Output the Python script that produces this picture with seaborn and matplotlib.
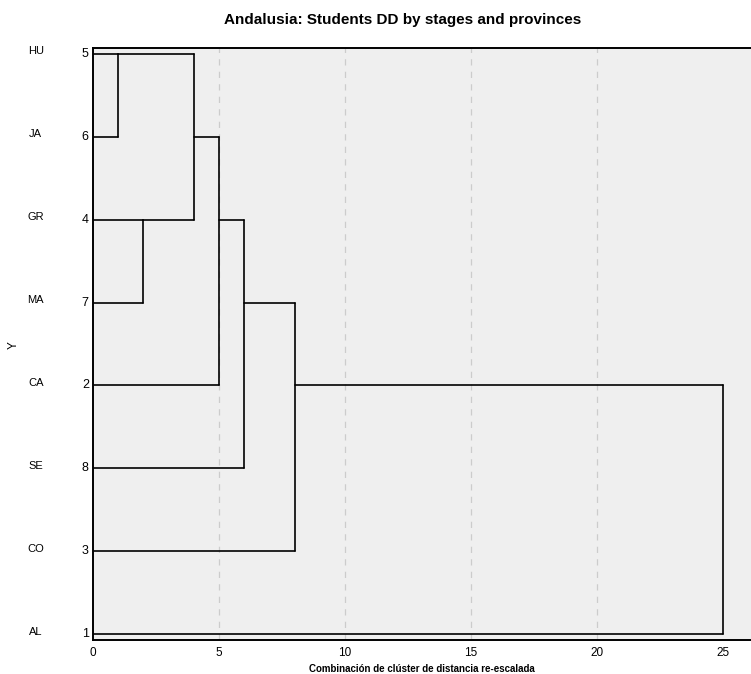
import numpy as np
import pandas as pd
import seaborn as sns
import matplotlib.pyplot as plt
import matplotlib.transforms as mtransforms

# leaves, listed from bottom row (0) to top row (7)
provinces = ["AL", "CO", "SE", "CA", "MA", "GR", "JA", "HU"]
case_ids = ["1", "3", "8", "2", "7", "4", "6", "5"]

# merges: upper node, lower node, rescaled distance, row of the new node
merge_upper = ["HU", "GR", "c1", "c3", "c4", "c5", "c6"]
merge_lower = ["JA", "MA", "c2", "CA", "SE", "CO", "AL"]
merge_dist = [1, 2, 4, 5, 6, 8, 25]
merge_row = [7, 5, 6, 5, 4, 3, 0]

x_ticks = [0, 5, 10, 15, 20, 25]

# build segments from the merge table
node_row = {p: i for i, p in enumerate(provinces)}
node_x = {p: 0 for p in provinces}
rows = []
seg = 0
for k, (a, b, d) in enumerate(zip(merge_upper, merge_lower, merge_dist)):
    for n in (a, b):
        rows += [(seg, node_x[n], node_row[n]), (seg, d, node_row[n])]
        seg += 1
    rows += [(seg, d, node_row[a]), (seg, d, node_row[b])]
    seg += 1
    name = f"c{k + 1}"
    node_row[name] = merge_row[k]
    node_x[name] = d
segs = pd.DataFrame(rows, columns=["seg", "x", "y"])

sns.set_theme(style="white")
plt.rcParams['font.family'] = ['Liberation Sans', 'DejaVu Sans']
plt.rcParams.update({"text.color": "black", "axes.labelcolor": "black",
                     "xtick.color": "black", "ytick.color": "black"})

fig = plt.figure(figsize=(7.51, 6.74), dpi=100)
ax = fig.add_axes([93 / 751, 34 / 674, 658 / 751, 592.5 / 674])
ax.set_facecolor("#efefef")

for t in x_ticks[1:-1]:
    ax.axvline(t, color="#cccccc", lw=0.9, ls=(0, (5, 5)), zorder=0)

sns.lineplot(data=segs, x="x", y="y", units="seg", estimator=None, sort=False,
             color="black", lw=1.2, ax=ax)

ax.set_xlim(0, 26.1)
ax.set_ylim(-0.072, 7.078)
ax.set_xticks(x_ticks)
ax.set_xticklabels([str(t) for t in x_ticks], fontsize=8.5)
ax.set_yticks(range(len(provinces)))
ax.set_yticklabels(case_ids, fontsize=9, va="center")
shift = mtransforms.ScaledTranslation(0, 3 / 100, fig.dpi_scale_trans)
for lab in ax.get_yticklabels():
    lab.set_transform(lab.get_transform() + shift)
ax.tick_params(axis="x", length=4, width=1, color="black", pad=1)
ax.tick_params(axis="y", length=0, pad=3)
for s in ["left", "bottom", "top"]:
    ax.spines[s].set_color("black")
    ax.spines[s].set_linewidth(1.4)
ax.spines["right"].set_visible(False)

trans = mtransforms.blended_transform_factory(ax.transAxes, ax.transData)
for i, p in enumerate(provinces):
    ax.text(-0.087, i + 0.03, p, transform=trans, ha="center", va="center", fontsize=8)

ax.set_xlabel("Combinación de clúster de distancia re-escalada", fontsize=7, fontweight="bold", labelpad=4)
ax.set_ylabel("")
fig.text(14 / 751, 1 - 345 / 674, "Y", rotation=90, ha="center", va="center", fontsize=8.5)
fig.text(0.5 + 27 / 751, 1 - 20 / 674, "Andalusia: Students DD by stages and provinces",
         ha="center", va="center", fontsize=11, fontweight="bold")

fig.savefig("out.png", dpi=100)
